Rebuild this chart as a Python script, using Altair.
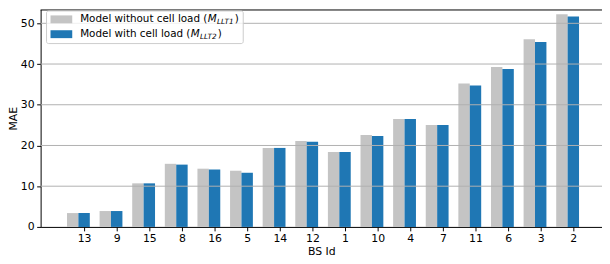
import altair as alt
import pandas as pd

# ---- data ----
bs_ids = ["13", "9", "15", "8", "16", "5", "14", "12", "1", "10", "4", "7", "11", "6", "3", "2"]
mae_without_load = [3.4, 3.9, 10.7, 15.5, 14.3, 13.8, 19.4, 21.1, 18.4, 22.6, 26.5, 25.0, 35.2, 39.3, 46.1, 52.2]
mae_with_load = [3.4, 3.9, 10.7, 15.3, 14.1, 13.3, 19.4, 20.9, 18.4, 22.3, 26.5, 25.0, 34.7, 38.8, 45.4, 51.7]
y_ticks = [0, 10, 20, 30, 40, 50]
models = ["without", "with"]
colors = ["#c4c4c4", "#1f77b4"]

BAR_W = 0.35
FONT = "DejaVu Sans"
FS = 10.5
AFS = 11

rows = []
for i, bs in enumerate(bs_ids):
    rows.append({"idx": i, "bs": bs, "model": "without", "value": mae_without_load[i],
                 "x0": i - 1.5 * BAR_W, "x1": i - 0.5 * BAR_W})
    rows.append({"idx": i, "bs": bs, "model": "with", "value": mae_with_load[i],
                 "x0": i - 0.5 * BAR_W, "x1": i + 0.5 * BAR_W})
df = pd.DataFrame(rows)

xscale = alt.Scale(domain=[-1.333, 15.879], nice=False, zero=False, padding=0)
yscale = alt.Scale(domain=[0, 53.4], nice=False, zero=True, padding=0)

label_expr = "[" + ",".join("'%s'" % b for b in bs_ids) + "][datum.value]"

bars = alt.Chart(df).mark_rect().encode(
    x=alt.X("x0:Q", scale=xscale,
            axis=alt.Axis(values=list(range(len(bs_ids))), labelExpr=label_expr,
                          title="BS Id", grid=False, tickSize=4, labelPadding=1.5,
                          titlePadding=2, labelFlush=False, labelOverlap=False)),
    x2="x1:Q",
    y=alt.Y("value:Q", scale=yscale,
            axis=alt.Axis(values=y_ticks, title="MAE", grid=False, tickSize=4,
                          labelPadding=2.5, titlePadding=2)),
    y2=alt.datum(0),
    color=alt.Color("model:N", scale=alt.Scale(domain=models, range=colors), legend=None),
)

grid = alt.Chart(pd.DataFrame({"v": y_ticks[1:]})).mark_rule(
    color="#b0b0b0", strokeWidth=1
).encode(y=alt.Y("v:Q", scale=yscale))

one = pd.DataFrame({"a": [0]})

top_spine = alt.Chart(one).mark_rule(color="black", strokeWidth=1).encode(
    x=alt.value(0), x2=alt.value("width"), y=alt.value(0.5)
)

legend_box = alt.Chart(one).mark_rect(
    fill="white", fillOpacity=0.8, stroke="#cccccc", strokeWidth=1, cornerRadius=2
).encode(x=alt.value(6), x2=alt.value(205), y=alt.value(1.5), y2=alt.value(34.5))

legend_layers = [legend_box]
row_y = [10, 25]
prefixes = ["Model without cell load (", "Model with cell load ("]
m_x = [169.0, 151.8]
subs = ["LLT1", "LLT2"]
for k in range(2):
    legend_layers.append(
        alt.Chart(one).mark_rect(color=colors[k]).encode(
            x=alt.value(10), x2=alt.value(32),
            y=alt.value(row_y[k] - 4), y2=alt.value(row_y[k] + 4)))
    legend_layers.append(
        alt.Chart(one).mark_text(text=prefixes[k], align="left", baseline="middle",
                                 font=FONT, fontSize=FS, color="black").encode(
            x=alt.value(40), y=alt.value(row_y[k])))
    legend_layers.append(
        alt.Chart(one).mark_text(text="M", align="left", baseline="middle",
                                 font=FONT, fontSize=FS, fontStyle="italic", color="black").encode(
            x=alt.value(m_x[k]), y=alt.value(row_y[k])))
    legend_layers.append(
        alt.Chart(one).mark_text(text=subs[k], align="left", baseline="middle",
                                 font=FONT, fontSize=FS * 0.7, fontStyle="italic", color="black").encode(
            x=alt.value(m_x[k] + 9.4), y=alt.value(row_y[k] + 2.5)))
    legend_layers.append(
        alt.Chart(one).mark_text(text=")", align="left", baseline="middle",
                                 font=FONT, fontSize=FS, color="black").encode(
            x=alt.value(m_x[k] + 27.3), y=alt.value(row_y[k])))

chart = alt.layer(bars, grid, top_spine, *legend_layers).properties(
    width=568, height=220,
    autosize=alt.AutoSizeParams(type="none"),
    padding={"left": 33, "top": 0, "right": 0, "bottom": 34},
).configure_view(stroke=None).configure_axis(
    labelFont=FONT, labelFontSize=AFS, labelColor="black",
    titleFont=FONT, titleFontSize=AFS, titleColor="black", titleFontWeight="normal",
    tickColor="black", domainColor="black", domainWidth=1, tickWidth=1,
)

chart.save("out.html", embed_options={"renderer": "svg", "actions": False})
